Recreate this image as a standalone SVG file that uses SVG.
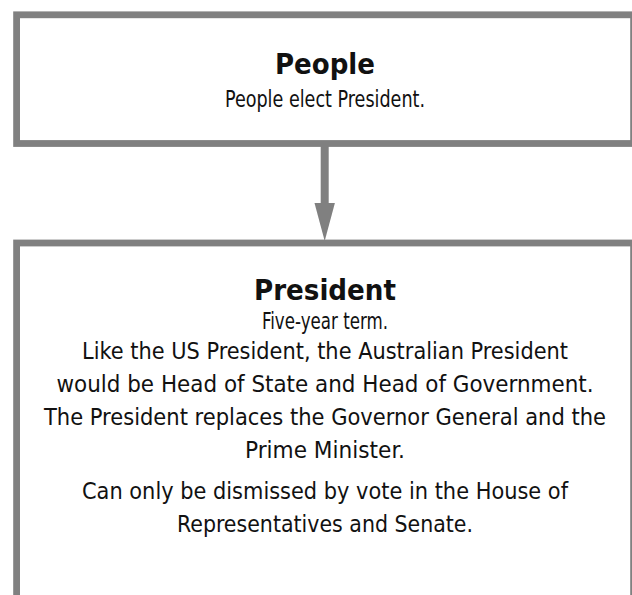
<svg xmlns="http://www.w3.org/2000/svg" width="632" height="595" viewBox="0 0 632 595">
  <style>
    .box { fill: #ffffff; stroke: #808080; stroke-width: 6.8; }
    .title { font-family: "Liberation Sans Narrow", "DejaVu Sans Condensed", "Liberation Sans", sans-serif; font-size: 29px; font-weight: bold; fill: #111111; text-anchor: middle; }
    .body { font-family: "Liberation Sans Narrow", "DejaVu Sans Condensed", "Liberation Sans", sans-serif; font-size: 22.5px; fill: #111111; text-anchor: middle; }
    .link { stroke: #808080; stroke-width: 8; fill: none; }
    .head { fill: #808080; }
  </style>
  <rect width="632" height="595" fill="#ffffff"/>

  <g id="connectors">
    <line class="link" x1="324.7" y1="146" x2="324.7" y2="206"/>
    <polygon class="head" points="314.5,203 334.9,203 324.7,241"/>
  </g>

  <g id="people">
    <rect class="box" x="16.6" y="14.8" width="617" height="128.7"/>
    <text class="title" x="325" y="74" textLength="100" lengthAdjust="spacingAndGlyphs">People</text>
    <text class="body" x="325" y="107" textLength="200" lengthAdjust="spacingAndGlyphs">People elect President.</text>
  </g>

  <g id="president">
    <rect class="box" x="16.6" y="243" width="617" height="400"/>
    <text class="title" x="325" y="300" textLength="142" lengthAdjust="spacingAndGlyphs">President</text>
    <text class="body" x="325" y="329" textLength="126" lengthAdjust="spacingAndGlyphs">Five-year term.</text>
    <text class="body" x="325" y="359" textLength="486" lengthAdjust="spacingAndGlyphs">Like the US President, the Australian President</text>
    <text class="body" x="325" y="392" textLength="537" lengthAdjust="spacingAndGlyphs">would be Head of State and Head of Government.</text>
    <text class="body" x="325" y="425" textLength="562" lengthAdjust="spacingAndGlyphs">The President replaces the Governor General and the</text>
    <text class="body" x="325" y="458" textLength="160" lengthAdjust="spacingAndGlyphs">Prime Minister.</text>
    <text class="body" x="325" y="499" textLength="486" lengthAdjust="spacingAndGlyphs">Can only be dismissed by vote in the House of</text>
    <text class="body" x="325" y="532" textLength="296" lengthAdjust="spacingAndGlyphs">Representatives and Senate.</text>
  </g>
</svg>
